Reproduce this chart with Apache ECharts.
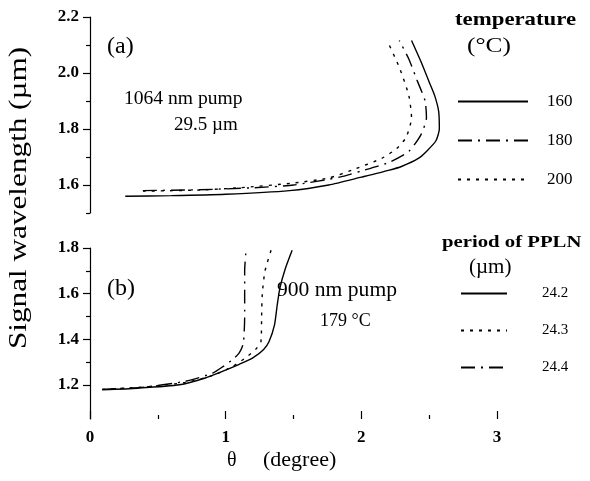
<!DOCTYPE html>
<html lang="en">
<head>
    <meta charset="UTF-8">
    <title>Signal wavelength vs angle</title>
    <script type="text/javascript" src="https://cdn.jsdelivr.net/npm/echarts@6/dist/echarts.min.js"></script>
</head>
<body style="margin:0;background:#fff">
    <div id="chart" style="width:590px;height:481px;"></div>
<script>
// data: [theta (degree), signal wavelength (um)]
var curve160 = [[0.26,1.560],[0.6,1.562],[1.0,1.567],[1.47,1.580],[1.76,1.600],[2.0,1.628],[2.2,1.652],[2.30,1.667],[2.42,1.695],[2.48,1.72],[2.55,1.758],[2.575,1.80],[2.57,1.863],[2.54,1.92],[2.50,1.968],[2.44,2.04],[2.37,2.116]];
var curve180 = [[0.39,1.580],[0.8,1.583],[1.2,1.59],[1.5,1.60],[1.84,1.628],[2.0,1.65],[2.2,1.68],[2.35,1.72],[2.44,1.78],[2.48,1.84],[2.47,1.90],[2.41,1.975],[2.35,2.05],[2.28,2.116]];
var curve200 = [[0.39,1.578],[0.8,1.582],[1.1,1.59],[1.5,1.607],[1.76,1.625],[1.93,1.653],[2.15,1.695],[2.26,1.73],[2.33,1.77],[2.37,1.84],[2.35,1.92],[2.28,2.02],[2.19,2.116]];

var curve242 = [[0.09,1.178],[0.35,1.185],[0.66,1.20],[0.85,1.23],[0.98,1.26],[1.1,1.29],[1.2,1.318],[1.28,1.355],[1.32,1.39],[1.36,1.463],[1.38,1.55],[1.40,1.625],[1.44,1.71],[1.49,1.79]];
var curve243 = [[0.09,1.18],[0.4,1.19],[0.7,1.21],[0.9,1.24],[1.05,1.28],[1.15,1.32],[1.22,1.355],[1.26,1.39],[1.265,1.5],[1.27,1.6],[1.29,1.7],[1.34,1.80]];
var curve244 = [[0.09,1.18],[0.4,1.19],[0.7,1.215],[0.9,1.25],[0.98,1.28],[1.05,1.31],[1.1,1.34],[1.13,1.38],[1.14,1.5],[1.14,1.6],[1.14,1.7],[1.15,1.79]];

var ticksA = [1.6, 1.8, 2.0, 2.2];
var minorA = [1.5, 1.7, 1.9, 2.1];
var ticksB = [1.2, 1.4, 1.6, 1.8];
var minorB = [1.3, 1.5, 1.7];

var font = 'Liberation Serif';
var dashDot = [14, 6, 2, 6];
var dotted = [3, 6];

var myChart = echarts.init(document.getElementById('chart'));

function yAx(grid, min, max, major, minor) {
    return [{
        type: 'value', gridIndex: grid, min: min, max: max,
        axisLine: { show: true, lineStyle: { color: '#000', width: 1.2 } },
        axisTick: { show: true, length: 7, customValues: major, lineStyle: { color: '#000', width: 1.2 } },
        axisLabel: { customValues: major, margin: 11, color: '#000', fontFamily: font, fontSize: 17, fontWeight: 'bold',
            formatter: function (v) { return v.toFixed(1); } },
        splitLine: { show: false }
    }, {
        type: 'value', gridIndex: grid, min: min, max: max, position: 'left',
        axisLine: { show: false },
        axisTick: { show: true, length: 4, customValues: minor, lineStyle: { color: '#000', width: 1.2 } },
        axisLabel: { show: false },
        splitLine: { show: false }
    }];
}

function line(name, data, xi, yi, type) {
    return {
        name: name, type: 'line', xAxisIndex: xi, yAxisIndex: yi, data: data,
        symbol: 'none', smooth: 0.2, color: '#000',
        lineStyle: { color: '#000', width: 1.4, type: type }
    };
}

function txt(x, y, s, f, sx) {
    return { type: 'text', x: x, y: y, scaleX: sx || 1, style: { text: s, font: f, fill: '#000' } };
}

var option = {
    backgroundColor: '#fff',
    animation: false,
    grid: [
        { left: 90, width: 407, top: 17, height: 196 },
        { left: 90, width: 407, top: 248, height: 171 }
    ],
    xAxis: [
        { type: 'value', gridIndex: 0, min: 0, max: 3, show: false },
        { type: 'value', gridIndex: 1, min: 0, max: 3, interval: 1,
          axisLine: { show: false },
          axisTick: { show: true, inside: true, length: 8, lineStyle: { color: '#000', width: 1.2 } },
          minorTick: { show: true, splitNumber: 2, length: 4, lineStyle: { color: '#000', width: 1.2 } },
          axisLabel: { margin: 10, color: '#000', fontFamily: font, fontSize: 17, fontWeight: 'bold' },
          splitLine: { show: false } }
    ],
    yAxis: yAx(0, 1.5, 2.2, ticksA, minorA).concat(yAx(1, 1.05, 1.8, ticksB, minorB)),
    legend: [
        { data: ['160', '180', '200'], orient: 'vertical', left: 452, top: 88, itemWidth: 70, itemHeight: 14, itemGap: 22,
          itemStyle: { opacity: 0 },
          textStyle: { fontFamily: font, fontSize: 17, color: '#000', padding: [0, 0, 0, 14] } },
        { data: ['24.2', '24.3', '24.4'], orient: 'vertical', left: 455, top: 281, itemWidth: 46, itemHeight: 14, itemGap: 22,
          itemStyle: { opacity: 0 },
          textStyle: { fontFamily: font, fontSize: 15, color: '#000', padding: [0, 0, 0, 30] } }
    ],
    graphic: [
        { type: 'text', x: 6, y: 198, rotation: Math.PI / 2, scaleX: 1.2,
          style: { text: 'Signal wavelength (\u00b5m)', font: '26px "Liberation Serif"', fill: '#000', textAlign: 'center', textVerticalAlign: 'top' } },
        txt(227, 451, '\u03b8', '20px "Liberation Serif"'),
        txt(263, 451, '(degree)', '20px "Liberation Serif"', 1.1),
        txt(107, 35, '(a)', '24px "Liberation Serif"'),
        txt(124, 90, '1064 nm pump', '19px "Liberation Serif"', 1.03),
        txt(174, 116, '29.5 \u00b5m', '19px "Liberation Serif"'),
        txt(455, 11, 'temperature', 'bold 19px "Liberation Serif"', 1.2),
        txt(467, 35, '(\u00b0C)', '22px "Liberation Serif"', 1.15),
        txt(107, 277, '(b)', '24px "Liberation Serif"'),
        txt(277, 281, '900 nm pump', '20px "Liberation Serif"', 1.08),
        txt(320, 312, '179 \u00b0C', '18px "Liberation Serif"'),
        txt(442, 234, 'period of PPLN', 'bold 17px "Liberation Serif"', 1.22),
        txt(469, 257, '(\u00b5m)', '21px "Liberation Serif"')
    ],
    series: [
        line('160', curve160, 0, 0, 'solid'),
        line('180', curve180, 0, 0, dashDot),
        line('200', curve200, 0, 0, dotted),
        line('24.2', curve242, 1, 2, 'solid'),
        line('24.3', curve243, 1, 2, dotted),
        line('24.4', curve244, 1, 2, dashDot)
    ]
};

myChart.setOption(option);
</script>
</body>
</html>
